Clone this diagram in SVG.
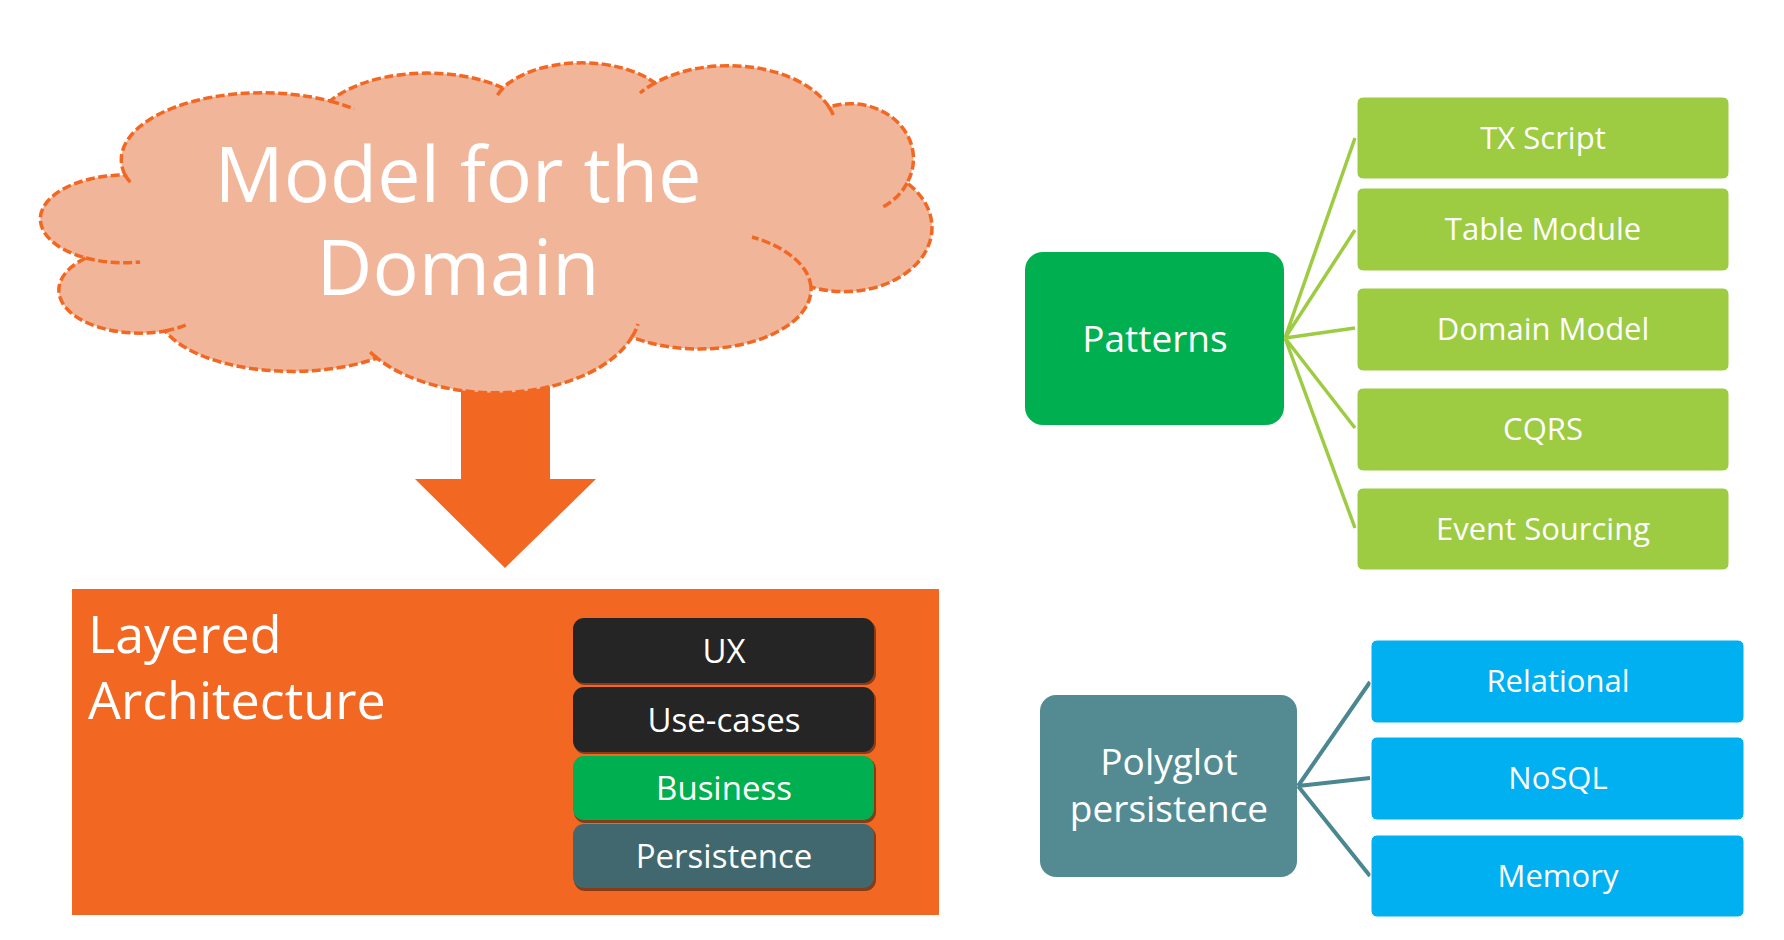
<svg xmlns="http://www.w3.org/2000/svg" width="1784" height="940" viewBox="0 0 1784 940">
<style>
text{font-family:"Open Sans","Noto Sans",sans-serif;fill:#ffffff;}
.c{text-anchor:middle;}
.cl{stroke:#F26822;stroke-width:3.5;stroke-dasharray:9 3.5;}
.cf{fill:#F1B59A;}
.cs{fill:none;}
.g{fill:#9DCB42;stroke:#ffffff;stroke-width:1;}
.b{fill:#00B0F0;stroke:#ffffff;stroke-width:1;}
.sh{fill:#2a1a10;opacity:0.55;}
.gl{stroke:#9DCB42;stroke-width:3.5;fill:none;}
.tl{stroke:#4A8791;stroke-width:4;fill:none;}
.s31{font-size:31px;}
.s33{font-size:33px;}
.s37{font-size:37px;}
</style>
<rect width="1784" height="940" fill="#ffffff"/>
<g id="arrow">
<path d="M461 360 L550 360 L550 479 L596 479 L505 568 L415 479 L461 479 Z" fill="#F26822"/>
</g>
<g id="cloud">
<path class="cl cf" d="M125 175 A141 67 0 0 1 330 101 A115 60 0 0 1 503 88 A91 50 0 0 1 655 83 A108 65 0 0 1 829 107 A63 55 0 0 1 907 183 A88 64 0 0 1 811 287 A112 60 0 0 1 632 337 A145 83 0 0 1 377 358 A136 62 0 0 1 165 331 A81 43 0 0 1 86 258 A85 44 0 0 1 125 175 Z"/>
<path class="cl cs" d="M86 258 A85 44 0 0 0 140 262 M165 331 A81 43 0 0 0 186 325 M377 358 A145 83 0 0 1 369 351 M632 337 A145 83 0 0 0 638 324 M811 287 A112 60 0 0 0 752 237 M907 183 A63 55 0 0 1 883 207 M829 107 A108 65 0 0 1 834 117 M655 83 A108 65 0 0 0 640 93 M503 88 A91 50 0 0 0 497 96 M330 101 A141 67 0 0 1 354 109 M125 175 A141 67 0 0 0 131 183"/>
<text class="c" font-size="77"><tspan x="458" y="202">Model for the</tspan><tspan x="458" y="295">Domain</tspan></text>
</g>
<g id="layered">
<rect x="72" y="589" width="867" height="326" fill="#F26822"/>
<text font-size="52"><tspan x="88" y="653">Layered</tspan><tspan x="88" y="719">Architecture</tspan></text>
</g>
<g id="ux">
<rect class="sh" x="574" y="620" width="302" height="65" rx="11"/>
<rect x="573" y="618" width="301" height="65" rx="11" fill="#252525"/>
<text class="c s33" x="724" y="663">UX</text>
</g>
<g id="usecases">
<rect class="sh" x="574" y="689" width="302" height="65" rx="11"/>
<rect x="573" y="687" width="301" height="65" rx="11" fill="#252525"/>
<text class="c s33" x="724" y="732">Use-cases</text>
</g>
<g id="business">
<rect class="sh" x="574" y="758" width="302" height="65" rx="11"/>
<rect x="573" y="756" width="301" height="64" rx="11" fill="#00B050"/>
<text class="c s33" x="724" y="800">Business</text>
</g>
<g id="persistence">
<rect class="sh" x="574" y="826" width="302" height="65" rx="11"/>
<rect x="573" y="824" width="301" height="64" rx="11" fill="#40686E"/>
<text class="c s33" x="724" y="868">Persistence</text>
</g>
<g id="connectors">
<path class="gl" d="M1285 338 L1355 138 M1285 338 L1355 230 M1285 338 L1355 328 M1285 338 L1355 428 M1285 338 L1355 528"/>
<path class="tl" d="M1298 786 L1370 682 M1298 786 L1370 778 M1298 786 L1370 876"/>
</g>
<g id="patterns">
<rect x="1025" y="252" width="259" height="173" rx="18" fill="#00B050"/>
<text class="c s37" x="1155" y="352">Patterns</text>
</g>
<g id="txscript">
<rect class="g" x="1357" y="97" width="372" height="82" rx="6"/>
<text class="c s31" x="1543" y="149">TX Script</text>
</g>
<g id="tablemodule">
<rect class="g" x="1357" y="188" width="372" height="83" rx="6"/>
<text class="c s31" x="1543" y="240">Table Module</text>
</g>
<g id="domainmodel">
<rect class="g" x="1357" y="288" width="372" height="83" rx="6"/>
<text class="c s31" x="1543" y="340">Domain Model</text>
</g>
<g id="cqrs">
<rect class="g" x="1357" y="388" width="372" height="83" rx="6"/>
<text class="c s31" x="1543" y="440">CQRS</text>
</g>
<g id="eventsourcing">
<rect class="g" x="1357" y="488" width="372" height="82" rx="6"/>
<text class="c s31" x="1543" y="540">Event Sourcing</text>
</g>
<g id="polyglot">
<rect x="1040" y="695" width="257" height="182" rx="16" fill="#548B93"/>
<text class="c s37"><tspan x="1169" y="775">Polyglot</tspan><tspan x="1169" y="822">persistence</tspan></text>
</g>
<g id="relational">
<rect class="b" x="1371" y="640" width="373" height="83" rx="6"/>
<text class="c s31" x="1558" y="692">Relational</text>
</g>
<g id="nosql">
<rect class="b" x="1371" y="737" width="373" height="83" rx="6"/>
<text class="c s31" x="1558" y="789">NoSQL</text>
</g>
<g id="memory">
<rect class="b" x="1371" y="835" width="373" height="82" rx="6"/>
<text class="c s31" x="1558" y="887">Memory</text>
</g>
</svg>
